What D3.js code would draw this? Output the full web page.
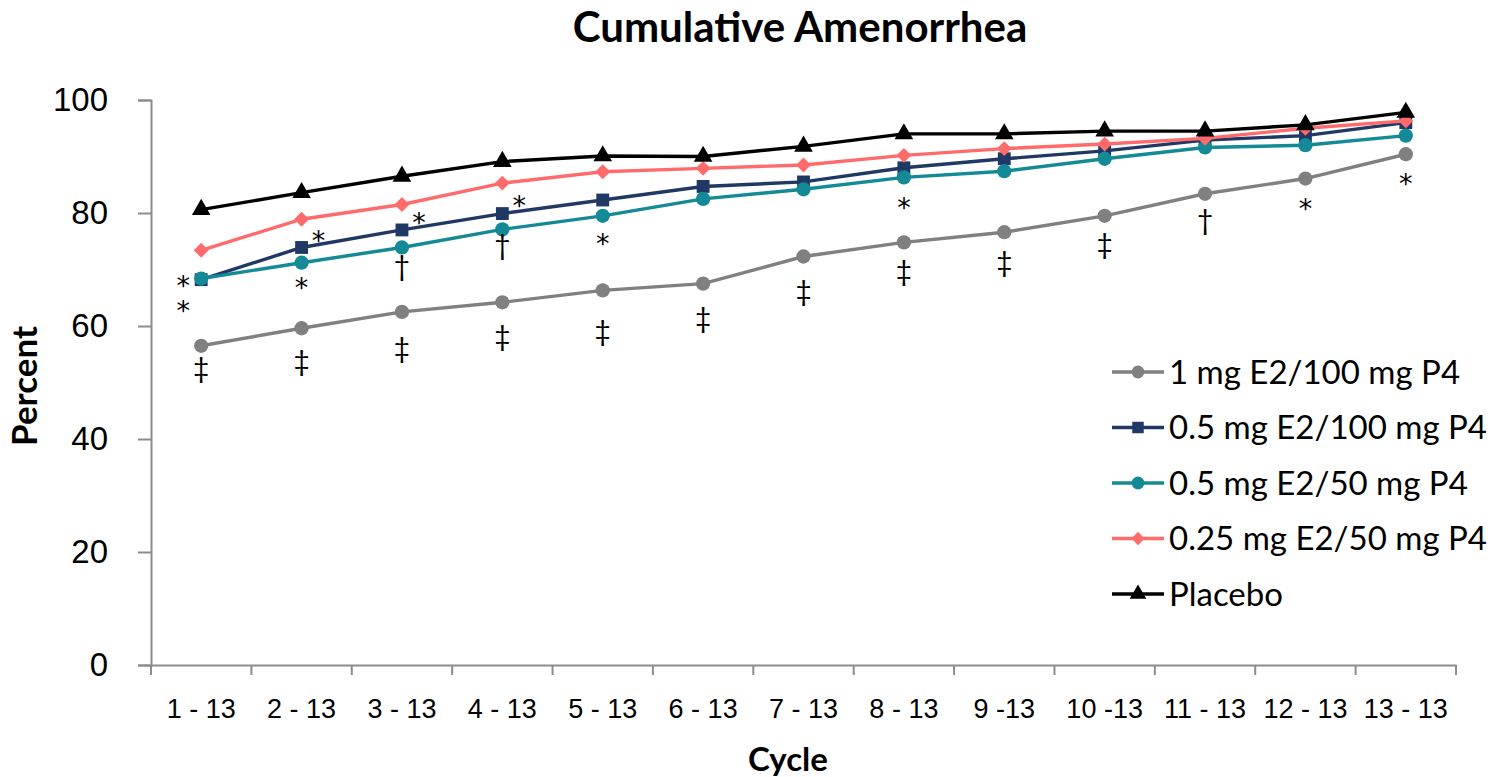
<!DOCTYPE html>
<html>
<head>
<meta charset="utf-8">
<script src="https://cdn.jsdelivr.net/npm/d3@7"></script>
<style>
  body { margin: 0; background: #fff; }
  svg { font-family: Lato, "Noto Sans", sans-serif; }
</style>
</head>
<body>
<script>
const cycles = ["1 - 13", "2 - 13", "3 - 13", "4 - 13", "5 - 13", "6 - 13", "7 - 13",
  "8 - 13", "9 -13", "10 -13", "11 - 13", "12 - 13", "13 - 13"];
const yTicks = [0, 20, 40, 60, 80, 100];

const e2_1_p4_100 = [56.5, 59.6, 62.5, 64.2, 66.3, 67.5, 72.3, 74.8, 76.6, 79.5, 83.4, 86.1, 90.4];
const e2_05_p4_100 = [68.2, 73.9, 77.0, 79.9, 82.3, 84.7, 85.5, 88.0, 89.6, 91.0, 92.9, 93.7, 96.0];
const e2_05_p4_50 = [68.4, 71.2, 73.9, 77.1, 79.5, 82.5, 84.2, 86.3, 87.4, 89.6, 91.6, 92.0, 93.7];
const e2_025_p4_50 = [73.4, 78.9, 81.5, 85.3, 87.3, 87.9, 88.5, 90.2, 91.4, 92.2, 93.2, 95.0, 96.3];
const placebo = [80.6, 83.6, 86.5, 89.1, 90.1, 90.0, 91.8, 94.0, 94.0, 94.5, 94.5, 95.6, 97.8];

// significance marks: category index, symbol, level (percent), side
const marks = [
  [0, "*", 68.1, "left"], [0, "*", 63.7, "left"], [0, "‡", 52.2, "mid"],
  [1, "*", 76.1, "right"], [1, "*", 67.8, "mid"], [1, "‡", 53.5, "mid"],
  [2, "*", 79.3, "right"], [2, "†", 70.3, "mid"], [2, "‡", 55.9, "mid"],
  [3, "*", 82.3, "right"], [3, "†", 74.0, "mid"], [3, "‡", 57.9, "mid"],
  [4, "*", 75.6, "mid"], [4, "‡", 58.8, "mid"],
  [5, "‡", 61.1, "mid"],
  [6, "‡", 66.0, "mid"],
  [7, "*", 81.9, "mid"], [7, "‡", 69.4, "mid"],
  [8, "‡", 71.0, "mid"],
  [9, "‡", 74.3, "mid"],
  [10, "†", 78.4, "mid"],
  [11, "*", 81.8, "mid"],
  [12, "*", 86.2, "mid"],
];

// rotated-square diamond, like the spreadsheet marker
const diamond = {
  draw(context, size) {
    const r = Math.sqrt(size / 2);
    context.moveTo(0, -r);
    context.lineTo(r, 0);
    context.lineTo(0, r);
    context.lineTo(-r, 0);
    context.closePath();
  },
};

const series = [
  { name: "1 mg E2/100 mg P4", values: e2_1_p4_100, color: "#808080", shape: d3.symbolCircle, size: 160 },
  { name: "0.5 mg E2/100 mg P4", values: e2_05_p4_100, color: "#1f3864", shape: d3.symbolSquare, size: 165 },
  { name: "0.5 mg E2/50 mg P4", values: e2_05_p4_50, color: "#138a95", shape: d3.symbolCircle, size: 160 },
  { name: "0.25 mg E2/50 mg P4", values: e2_025_p4_50, color: "#ff6b6b", shape: diamond, size: 110 },
  { name: "Placebo", values: placebo, color: "#000000", shape: d3.symbolTriangle, size: 150 },
];

const width = 1498, height = 777;
const margin = { top: 100, right: 42, bottom: 112, left: 151 };

const svg = d3.select("body").append("svg")
  .attr("width", width).attr("height", height);

const x = d3.scaleBand().domain(cycles).range([margin.left, width - margin.right]);
const y = d3.scaleLinear().domain([0, 100]).range([height - margin.bottom, margin.top]);

const axisColor = "#8c8c8c";

// y axis
const yAxis = svg.append("g")
  .attr("transform", `translate(${margin.left},0)`)
  .call(d3.axisLeft(y).tickValues(yTicks).tickSize(13).tickPadding(30));
yAxis.select(".domain").attr("stroke", axisColor).attr("stroke-width", 2);
yAxis.selectAll(".tick line").attr("stroke", axisColor).attr("stroke-width", 2);
yAxis.selectAll(".tick text").attr("font-size", 33).attr("fill", "#000");

// x axis
const xAxis = svg.append("g")
  .attr("transform", `translate(0,${height - margin.bottom})`)
  .call(d3.axisBottom(x).tickSize(0).tickPadding(34));
xAxis.select(".domain").attr("stroke", axisColor).attr("stroke-width", 2);
xAxis.selectAll(".tick text").attr("font-size", 27).attr("fill", "#000");
const bounds = cycles.map((c) => x(c)).concat([x.range()[1]]);
xAxis.selectAll(".bound").data(bounds).join("line")
  .attr("class", "bound")
  .attr("x1", (d) => d).attr("x2", (d) => d)
  .attr("y1", 0).attr("y2", 10)
  .attr("stroke", axisColor).attr("stroke-width", 2);

const cx = (i) => x(cycles[i]) + x.bandwidth() / 2;

const line = d3.line().x((d, i) => cx(i)).y((d) => y(d));

series.forEach((s) => {
  const g = svg.append("g");
  g.append("path")
    .attr("d", line(s.values))
    .attr("fill", "none")
    .attr("stroke", s.color)
    .attr("stroke-width", 3.4);
  g.selectAll("path.pt").data(s.values).join("path")
    .attr("class", "pt")
    .attr("transform", (d, i) => `translate(${cx(i)},${y(d)})`)
    .attr("d", d3.symbol().type(s.shape).size(s.size))
    .attr("fill", s.color);
});

// significance symbols
const symFont = { "*": "DejaVu Sans", "†": "Lato", "‡": "Lato" };
const symSize = { "*": 27, "†": 28, "‡": 28 };
const baseShift = { "*": 0.56, "†": 0.28, "‡": 0.3 };
const sideShift = { left: -18, mid: 0, right: 17 };
svg.append("g").selectAll("text").data(marks).join("text")
  .attr("x", (d) => cx(d[0]) + sideShift[d[3]])
  .attr("y", (d) => y(d[2]) + baseShift[d[1]] * symSize[d[1]])
  .attr("text-anchor", "middle")
  .attr("font-family", (d) => symFont[d[1]])
  .attr("font-size", (d) => symSize[d[1]])
  .attr("fill", "#000")
  .text((d) => d[1]);

// legend
const legend = svg.append("g").attr("transform", "translate(1112,372)");
const row = legend.selectAll("g").data(series).join("g")
  .attr("transform", (d, i) => `translate(0,${i * 55.5})`);
row.append("line").attr("x1", 0).attr("x2", 52)
  .attr("stroke", (d) => d.color).attr("stroke-width", 3.4);
row.append("path").attr("transform", "translate(26,0)")
  .attr("d", (d) => d3.symbol().type(d.shape).size(d.size * 0.8)())
  .attr("fill", (d) => d.color);
row.append("text").attr("x", 57).attr("dy", "0.36em")
  .attr("font-size", 33).attr("fill", "#000")
  .text((d) => d.name);

// titles
svg.append("text").attr("x", 800).attr("y", 42)
  .attr("text-anchor", "middle").attr("font-size", 42).attr("font-weight", "bold")
  .text("Cumulative Amenorrhea");
svg.append("text").attr("x", 788).attr("y", 771)
  .attr("text-anchor", "middle").attr("font-size", 33).attr("font-weight", "bold")
  .text("Cycle");
svg.append("text").attr("transform", "translate(37,386) rotate(-90)")
  .attr("text-anchor", "middle").attr("font-size", 35).attr("font-weight", "bold")
  .text("Percent");
</script>
</body>
</html>
